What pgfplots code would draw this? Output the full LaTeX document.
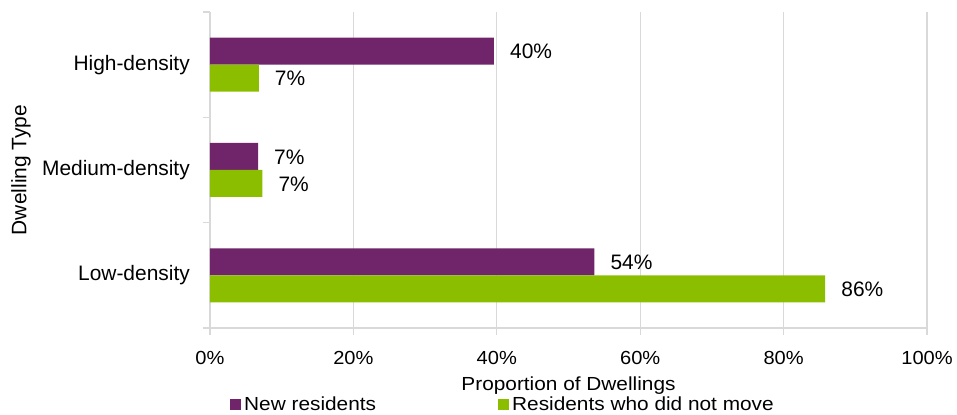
\documentclass[border=0pt]{standalone}
\usepackage{fontspec}
\setmainfont{Liberation Sans}
\usepackage{graphicx}
\usepackage{pgfplots}
\pgfplotsset{compat=1.18}
\definecolor{cpurple}{RGB}{112,36,106}
\definecolor{cgreen}{RGB}{140,190,0}
\definecolor{cgrid}{RGB}{217,217,217}
\newcommand{\bigf}{\fontsize{21}{25}\selectfont}
\newcommand{\smf}{\fontsize{19}{23}\selectfont}
\newcommand{\st}[1]{\scalebox{1.06}[1]{#1}}
\newcommand{\stw}[1]{\scalebox{1.1}[1]{#1}}
\begin{document}
\begin{tikzpicture}
\begin{axis}[
  scale only axis, width=717bp, height=316bp,
  xmin=0, xmax=100, ymin=-0.5, ymax=2.5,
  axis x line*=bottom, axis y line*=left,
  axis line style={cgrid, line width=1.2bp},
  xtick={0,20,40,60,80,100},
  xticklabels={\st{0\%},\st{20\%},\st{40\%},\st{60\%},\st{80\%},\st{100\%}},
  xticklabel style={font=\smf, inner sep=0pt, yshift=-16bp},
  xmajorgrids, grid style={cgrid, line width=1.2bp},
  major tick length=7bp, tick align=outside,
  tick style={cgrid, line width=1.2bp},
  ytick={0,1,2},
  yticklabels={Low-density,Medium-density,High-density},
  ytick style={draw=none},
  yticklabel style={font=\bigf, inner sep=0pt, xshift=-13bp},
  extra y ticks={-0.5,0.5,1.5,2.5},
  extra y tick labels={},
  extra y tick style={ytick style={cgrid, line width=1.2bp, draw=cgrid}},
  legend columns=2,
  legend style={draw=none, fill=none, inner sep=0pt, at={(0,0)}, anchor=west,
    xshift=20bp, yshift=-76bp, font=\smf, nodes={inner sep=1bp}},
  legend image code/.code={\fill[#1,draw=none] (0bp,-5.5bp) rectangle (11bp,5.5bp);},
  nodes near coords={\pgfplotspointmeta\%},
  point meta=explicit symbolic,
  every node near coord/.append style={font=\bigf, anchor=west, inner sep=0pt, xshift=16bp, black},
  clip=false,
]
\addplot[xbar, bar width=27bp, bar shift=13.5bp, fill=cpurple, draw=none,
  every node near coord/.append style={yshift=13bp}]
  coordinates {(53.6,0)[54] (6.7,1)[7] (39.6,2)[40]};
\addlegendentry{\makebox[255bp][l]{\hspace{2bp}\stw{New residents}}}
\addplot[xbar, bar width=27bp, bar shift=-13.5bp, fill=cgreen, draw=none,
  every node near coord/.append style={yshift=-14bp}]
  coordinates {(85.8,0)[86] (7.3,1)[7] (6.8,2)[7]};
\addlegendentry{\hspace{2bp}\stw{Residents who did not move}}
\node[font=\smf, inner sep=0pt] at (rel axis cs:0.5,0) [yshift=-58bp] {\stw{Proportion of Dwellings}};
\node[font=\bigf, inner sep=0pt, rotate=90] at ([xshift=-189bp]rel axis cs:0,0.5) {Dwelling Type};
\coordinate (BL) at (rel axis cs:0,0);
\coordinate (TR) at (rel axis cs:1,1);
\end{axis}
\pgfresetboundingbox
\useasboundingbox ([shift={(-210bp,-87bp)}]BL) rectangle ([shift={(30bp,12bp)}]TR);
\end{tikzpicture}
\end{document}
